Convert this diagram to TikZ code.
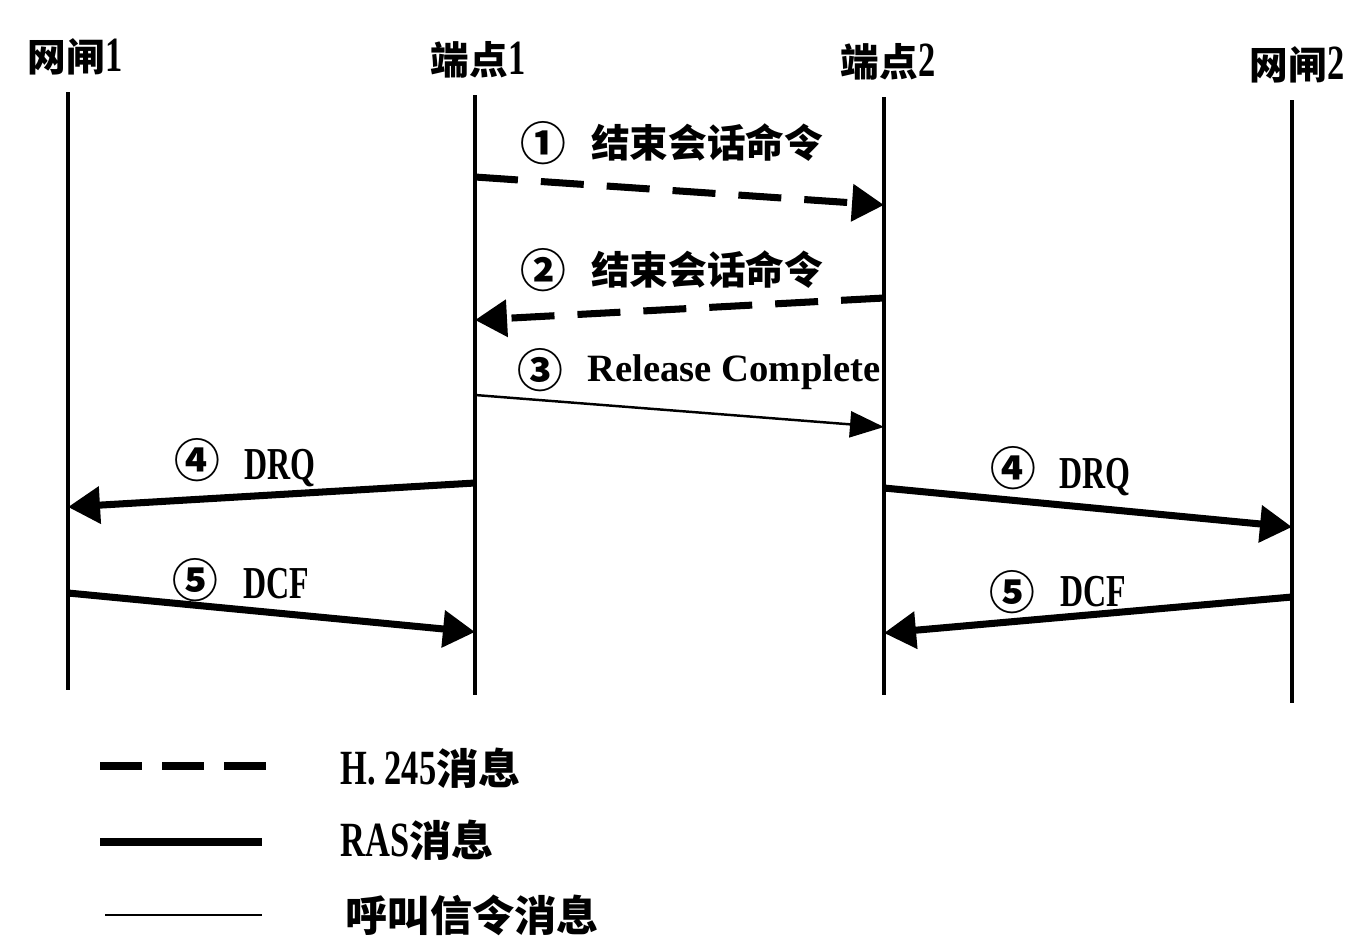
\documentclass[tikz,border=0pt]{standalone}
\usepackage{fontspec}
\setmainfont{Liberation Serif}
\newfontfamily\cjk{Noto Sans CJK SC}
\newfontfamily\condserif{Liberation Serif}[FakeStretch=0.7]
\usepackage{tikz}
\usetikzlibrary{arrows.meta}

\begin{document}
\begin{tikzpicture}[
    lifeline/.style={line width=1.4pt},
    hmsg/.style={line width=2pt, dash pattern=on 4.3mm off 2.3mm, -{Triangle[length=3.2mm, width=3.6mm]}},
    rasmsg/.style={line width=2pt, -{Triangle[length=3.2mm, width=3.6mm]}},
    callmsg/.style={line width=0.7pt, -{Triangle[length=3.4mm, width=2.6mm]}},
    head/.style={font=\fontsize{11}{13}\selectfont\bfseries, inner sep=0pt},
    num/.style={font=\cjk\fontsize{13}{15}\selectfont\bfseries, inner sep=0pt},
    msg/.style={font=\fontsize{11}{13}\selectfont\bfseries, inner sep=0pt},
    legend/.style={font=\fontsize{12}{14}\selectfont\bfseries, inner sep=0pt, anchor=west}
]
\useasboundingbox (0,0) rectangle (13.51,-9.41);

% participants
\node[head] (gw1) at (0.75,-0.57) {{\cjk 网闸}{\condserif\fontsize{14}{16}\selectfont 1}};
\node[head] (ep1) at (4.78,-0.60) {{\cjk 端点}{\condserif\fontsize{14}{16}\selectfont 1}};
\node[head] (ep2) at (8.88,-0.62) {{\cjk 端点}{\condserif\fontsize{14}{16}\selectfont 2}};
\node[head] (gw2) at (12.97,-0.65) {{\cjk 网闸}{\condserif\fontsize{14}{16}\selectfont 2}};

\coordinate (gw1t) at (0.68,-0.92);  \coordinate (gw1b) at (0.68,-6.90);
\coordinate (ep1t) at (4.75,-0.95);  \coordinate (ep1b) at (4.75,-6.95);
\coordinate (ep2t) at (8.84,-0.97);  \coordinate (ep2b) at (8.84,-6.95);
\coordinate (gw2t) at (12.92,-1.00); \coordinate (gw2b) at (12.92,-7.03);

\draw[lifeline] (gw1t) -- (gw1b);
\draw[lifeline] (ep1t) -- (ep1b);
\draw[lifeline] (ep2t) -- (ep2b);
\draw[lifeline] (gw2t) -- (gw2b);

% message ends
\coordinate (m1s) at (4.75,-1.77);  \coordinate (m1e) at (8.84,-2.05);
\coordinate (m2s) at (8.84,-2.98);  \coordinate (m2e) at (4.75,-3.20);
\coordinate (m3s) at (4.75,-3.95);  \coordinate (m3e) at (8.84,-4.27);
\coordinate (m4s) at (4.75,-4.83);  \coordinate (m4e) at (0.68,-5.07);
\coordinate (m5s) at (0.68,-5.93);  \coordinate (m5e) at (4.75,-6.32);
\coordinate (m6s) at (8.84,-4.88);  \coordinate (m6e) at (12.92,-5.27);
\coordinate (m7s) at (12.92,-5.97); \coordinate (m7e) at (8.84,-6.33);

\draw[hmsg] (m1s) -- (m1e);
\draw[hmsg] (m2s) -- (m2e);
\draw[callmsg] (m3s) -- (m3e);
\draw[rasmsg] (m4s) -- (m4e);
\draw[rasmsg] (m5s) -- (m5e);
\draw[rasmsg] (m6s) -- (m6e);
\draw[rasmsg] (m7s) -- (m7e);

% labels
\node[num] (c1) at (5.43,-1.43) {①};
\node[msg] (t1) at (7.07,-1.43) {\cjk 结束会话命令};
\node[num] (c2) at (5.43,-2.70) {②};
\node[msg] (t2) at (7.07,-2.70) {\cjk 结束会话命令};
\node[num] (c3) at (5.40,-3.70) {③};
\node[msg] (t3) at (7.34,-3.72) {Release Complete};
\node[num] (c4) at (1.97,-4.60) {④};
\node[msg, font=\condserif\fontsize{13}{15}\selectfont\bfseries] (t4) at (2.80,-4.68) {DRQ};
\node[num] (c5) at (1.95,-5.80) {⑤};
\node[msg, font=\condserif\fontsize{13}{15}\selectfont\bfseries] (t5) at (2.76,-5.84) {DCF};
\node[num] (c6) at (10.13,-4.68) {④};
\node[msg, font=\condserif\fontsize{13}{15}\selectfont\bfseries] (t6) at (10.95,-4.77) {DRQ};
\node[num] (c7) at (10.12,-5.92) {⑤};
\node[msg, font=\condserif\fontsize{13}{15}\selectfont\bfseries] (t7) at (10.93,-5.92) {DCF};

% legend
\coordinate (lg1a) at (1.00,-7.66); \coordinate (lg1b) at (2.68,-7.66);
\coordinate (lg2a) at (1.00,-8.42); \coordinate (lg2b) at (2.62,-8.42);
\coordinate (lg3a) at (1.05,-9.15); \coordinate (lg3b) at (2.62,-9.15);
\draw[line width=2pt, dash pattern=on 4.2mm off 2mm] (lg1a) -- (lg1b);
\draw[line width=2pt] (lg2a) -- (lg2b);
\draw[line width=0.7pt] (lg3a) -- (lg3b);
\node[legend] (h245) at (3.40,-7.68) {{\condserif\fontsize{14}{16}\selectfont H. 245}{\cjk 消息}};
\node[legend] (ras) at (3.40,-8.40) {{\condserif\fontsize{14}{16}\selectfont RAS}{\cjk 消息}};
\node[legend] (call) at (3.45,-9.15) {\cjk 呼叫信令消息};

\end{tikzpicture}
\end{document}
